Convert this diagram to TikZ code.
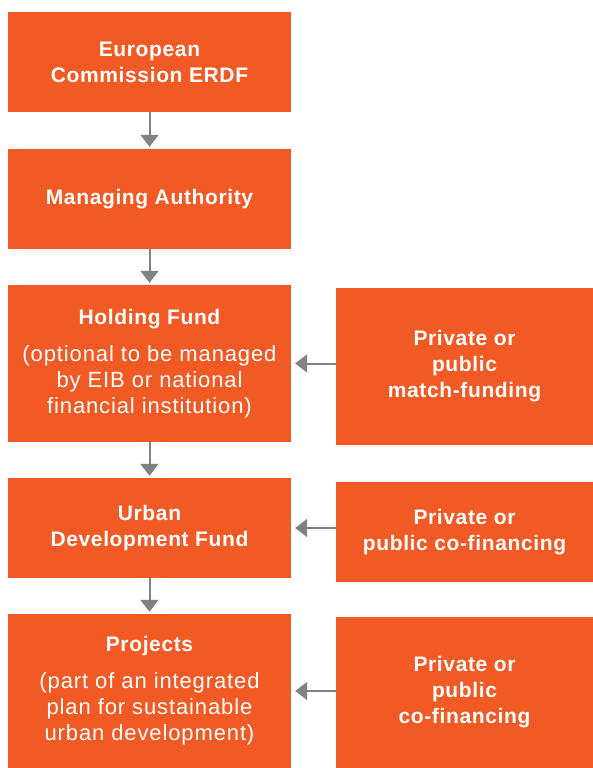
\documentclass[tikz,border=0pt]{standalone}
\usepackage{fontspec}
\setmainfont{Liberation Sans}
\newfontfamily\boxfont[LetterSpace=3]{Liberation Sans}
\newfontfamily\notefont[LetterSpace=4]{Liberation Sans}
\usetikzlibrary{arrows.meta}

% Changing color 241 90 36
\definecolor{r241g90b36}{rgb}{0.945098,0.352941,0.141176}
% Changing color 128 130 133
\definecolor{r128g130b133}{rgb}{0.501961,0.509804,0.521569}

% smaller remark under a box title
\newcommand{\fundnote}{\notefont\fontsize{22}{26}\selectfont}

\tikzset{
  fundbox/.style={rectangle, fill=r241g90b36, text=white, inner sep=0pt,
    align=center, font=\boxfont\fontsize{21}{26}\selectfont},
  leftbox/.style={fundbox, minimum width=283pt},
  rightbox/.style={fundbox, minimum width=257pt},
  flowarrow/.style={draw=r128g130b133, line width=2pt,
    -{Triangle[width=18pt,length=12pt]}}
}

\begin{document}
\begin{tikzpicture}[x=1pt,y=-1pt]
  \useasboundingbox (0,0) rectangle (593,768);

  % Drawing box European Commission ERDF
  \node [leftbox, minimum height=100pt] (erdf) at (149.5,62)
    {\bfseries European\\ \bfseries Commission ERDF};

  % Drawing box Managing Authority
  \node [leftbox, minimum height=100pt] (authority) at (149.5,199)
    {\bfseries Managing Authority};

  % Drawing box Holding Fund
  \node [leftbox, minimum height=157pt] (holding) at (149.5,363.5)
    {\bfseries Holding Fund\\[11pt] \fundnote (optional to be managed\\ \fundnote by EIB or national\\ \fundnote financial institution)};

  % Drawing box Urban Development Fund
  \node [leftbox, minimum height=100pt] (urban) at (149.5,528)
    {\bfseries Urban\\ \bfseries Development Fund};

  % Drawing box Projects
  \node [leftbox, minimum height=154pt] (projects) at (149.5,691)
    {\bfseries Projects\\[11pt] \fundnote (part of an integrated\\ \fundnote plan for sustainable\\ \fundnote urban development)};

  % Drawing box match-funding
  \node [rightbox, minimum height=157pt] (matchfund) at (464.5,366.5)
    {\bfseries Private or\\ \bfseries public\\ \bfseries match-funding};

  % Drawing box co-financing of the fund
  \node [rightbox, minimum height=100pt] (cofinfund) at (464.5,532)
    {\bfseries Private or\\ \bfseries public co-financing};

  % Drawing box co-financing of the projects
  \node [rightbox, minimum height=151pt] (cofinproj) at (464.5,692.5)
    {\bfseries Private or\\ \bfseries public\\ \bfseries co-financing};

  % Drawing arrows down the chain
  \draw [flowarrow, shorten >=2pt] (erdf) -- (authority);
  \draw [flowarrow, shorten >=2pt] (authority) -- (holding);
  \draw [flowarrow, shorten >=2pt] (holding) -- (urban);
  \draw [flowarrow, shorten >=2pt] (urban) -- (projects);

  % Drawing arrows from the side funding
  \draw [flowarrow, shorten >=4pt] (holding.east -| matchfund.west) -- (holding.east);
  \draw [flowarrow, shorten >=4pt] (urban.east -| cofinfund.west) -- (urban.east);
  \draw [flowarrow, shorten >=4pt] (projects.east -| cofinproj.west) -- (projects.east);
\end{tikzpicture}
\end{document}
